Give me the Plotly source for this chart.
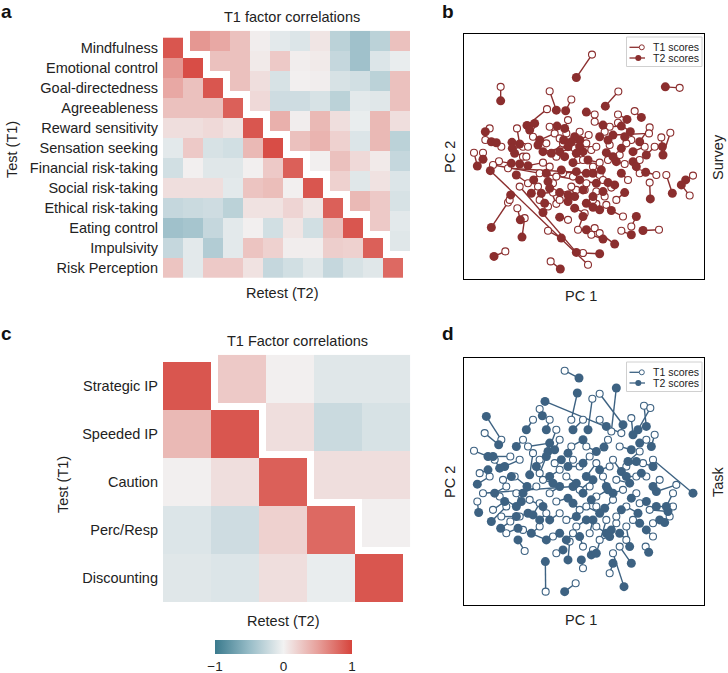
import plotly.graph_objects as go

W, H = 728, 673
FONT = "Liberation Sans, Arial, Helvetica, sans-serif"

# ---------------- Panel a: survey factor correlations ----------------
survey_labels = ["Mindfulness", "Emotional control", "Goal-directedness", "Agreeableness",
                 "Reward sensitivity", "Sensation seeking", "Financial risk-taking",
                 "Social risk-taking", "Ethical risk-taking", "Eating control",
                 "Impulsivity", "Risk Perception"]
survey_reliability = [0.90, 0.95, 0.90, 0.85, 0.90, 0.95, 0.85, 0.90, 0.85, 0.90, 0.85, 0.80]
# retest (T2) correlations, lower triangle, row i has columns 0..i-1
survey_retest_lower = [
    [],
    [0.55],
    [0.45, 0.30],
    [0.30, 0.30, 0.30],
    [0.12, 0.12, 0.15, 0.10],
    [-0.08, 0.25, -0.15, -0.18, 0.35],
    [-0.18, 0.02, -0.10, -0.10, 0.02, 0.25],
    [0.12, 0.12, 0.12, -0.08, 0.28, 0.32, 0.02],
    [-0.25, -0.22, -0.20, -0.30, 0.10, 0.10, 0.18, 0.08],
    [-0.45, -0.42, -0.25, -0.08, 0.02, -0.18, 0.08, -0.18, 0.30],
    [-0.25, -0.08, -0.35, -0.08, 0.28, 0.20, 0.03, 0.03, 0.22, 0.20],
    [0.28, -0.08, 0.25, 0.25, 0.10, -0.25, -0.18, -0.10, -0.25, -0.15, -0.10],
]
# test (T1) correlations, upper triangle, row i has columns i+1..11
survey_test_upper = [
    [0.55, 0.45, 0.30, 0.03, -0.08, -0.12, 0.08, -0.30, -0.45, -0.30, 0.30],
    [0.30, 0.30, 0.05, 0.25, 0.03, 0.05, -0.25, -0.45, -0.12, -0.05],
    [0.30, 0.12, -0.15, 0.02, 0.03, -0.15, -0.18, -0.30, 0.30],
    [0.15, -0.20, -0.20, -0.15, -0.30, -0.08, -0.10, 0.30],
    [0.40, 0.03, 0.35, 0.12, -0.05, 0.35, 0.12],
    [0.30, 0.38, 0.20, -0.12, 0.35, -0.30],
    [0.02, 0.30, 0.15, 0.05, -0.25],
    [0.20, -0.10, 0.10, -0.12],
    [0.35, 0.25, -0.15],
    [0.25, -0.08],
    [-0.10],
    [],
]

# ---------------- Panel c: task factor correlations ----------------
task_labels = ["Strategic IP", "Speeded IP", "Caution", "Perc/Resp", "Discounting"]
task_reliability = [0.90, 0.90, 0.85, 0.80, 0.90]
task_retest_lower = [
    [],
    [0.35],
    [0.02, 0.12],
    [-0.12, -0.20, 0.20],
    [-0.10, -0.12, 0.12, -0.05],
]
task_test_upper = [
    [0.25, 0.02, -0.10, -0.10],
    [0.12, -0.22, -0.15],
    [0.12, 0.12],
    [0.02],
    [],
]

# ---------------- Panel b: survey PCA scores (arbitrary units) ----------------
survey_t1_x = [24, -250, 287, 103, -38, -103, -111, 32, 152, 102, -283, -201, -158, -103, -48, 32, 77, 102, 197,
               -296, -248, -183, -88, 14, 62, 142, 195, 232, 259, -168, -43, -63, -28, 22, 107, 182, 212, -330,
               12, -303, -255, -183, -123, -18, 47, 122, 167, 197, 217, 247, 327, 317, -273, -228, -168, -93, -63,
               47, 82, 57, 97, -228, -200, -178, -138, -93, -83, -23, 2, 37, 62, -108, 2, 37, 67, 117, 142, 112,
               225, -48, -18, 32, 47, 22, -108, -236, -100, -3, -223, -193, -53, -13, -73, 7, 37, -83, -3, -103,
               -83, -33, 27, -133, 7, -38, 72, -113, -153, 127, 77, 167, 27, -73, -133, -173, 132]
survey_t1_y = [307, 210, 207, 196, 172, 197, 143, 127, 137, 127, 85, 85, 92, 90, 110, 105, 90, 102, 88,
               50, 30, 30, 70, 65, 75, 50, 70, 58, 72, 30, 30, 40, 25, 20, 5, 30, 30, 12,
               -325, 12, -14, 0, -18, -10, -18, -22, -10, -78, -55, -55, -57, -117, -25, -35, -80, -80, -50,
               -55, -93, -70, -130, -138, -155, -185, -90, -108, -142, -100, -100, -105, -120, -150, -170, -142, -145, -180, -210, -223,
               -220, -190, -220, -215, -230, -235, -223, -285, -315, -290, -130, -90, 70, 75, 55, 40, 30, 0, -10, -30,
               -60, -60, -30, -50, -80, -90, -10, 40, 60, 40, 35, -50, -130, -130, -130, 0, -70]
survey_t2_x = [-23, -250, 244, 64, -55, -83, -171, 7, 172, 129, -296, -193, -148, -81, -58, 57, 112, 139, 167,
               -278, -263, -216, -133, -13, 47, 122, 87, 235, 237, -215, -123, -98, -73, -3, 67, 147, 187, -320,
               -281, -303, -218, -193, -168, -33, 12, 97, 147, 199, 185, 265, 305, 292, 37, 27, -203, -108, -23,
               7, 72, 92, 122, -220, -191, -186, -158, -128, -103, -73, -48, 27, 57, -123, -28, 27, 47, 82, 157, 142,
               177, -73, -3, 7, 92, 57, -68, -270, -71, 47, -278, -23, -61, -28, -48, -38, -13, -58, -23, -113,
               -68, -13, 52, -151, -3, -28, 87, -138, -163, 112, 72, 157, 7, -48, -118, -208, 112]
survey_t2_y = [238, 168, 210, 152, 138, 140, 94, 134, 118, 112, 75, 38, 100, 92, 85, 95, 92, 75, 45,
               45, 42, 43, 50, 50, 60, 60, 65, 30, 5, 25, 15, 10, 15, 15, 12, 15, 5, -28,
               -42, -8, -20, -22, -27, -18, -10, -15, -15, -127, -47, -110, -70, -85, -80, -50, -55, -75, -45,
               -50, -78, -85, -108, -115, -190, -242, -110, -110, -95, -108, -115, -120, -105, -168, -155, -152, -160, -162, -180, -235,
               -222, -182, -180, -220, -263, -248, -245, -300, -338, -292, -213, -288, 50, 60, 30, 45, 30, 0, 10, -50,
               -40, -70, -40, -70, -100, -120, 0, 35, 80, 25, 50, -30, -140, -135, -140, 10, -50]

# ---------------- Panel d: task PCA scores (arbitrary units) ----------------
task_t1_x = [-58, -38, 25, 47, 82, 112, -133, -248, -298, -330, -221, 180, 199, 142, 212, 207, 277, 197, 257, 185,
             -115, -25, 87, 107, -320, -233, -221, -178, -283, -43, -3, 27, -168, -83, -153, -193, -208, -133, -73, -38,
             7, 72, 107, 167, 87, 37, -13, -73, -143, -233, -303, -253, -193, -133, -103, -53, 17, 57, 97, 157,
             187, 227, 127, 87, 37, -13, -73, -133, -183, -233, -93, -23, 37, 97, 127, 47, -3, 67, 147, 207,
             267, -313, -248, -88, -33, 17, 77, 127, 177, -133, -203, -163, -83, -13, 117, 167, 7, -53, -113, -153,
             -103, -3, 187, -273, 37, 97, -33, 17, -123, -243, 127, 207, -83, 77, -268, 157, 47, -183, 267]
task_t1_y = [332, 185, 248, 263, 150, 145, 217, 125, 145, 92, 75, 227, 220, 190, 140, 65, -10, -85, -105, -195,
             -330, -305, -215, -195, -60, -75, -120, -208, 15, -180, -260, -205, 105, 155, 85, 65, 15, 25, 125, 105,
             105, 125, 105, 90, 65, 55, 45, 35, -15, -15, -35, -45, -105, -65, -35, 15, -15, 15, 5, -35,
             15, 5, -75, -55, -75, -85, -95, -135, -145, -155, -165, -135, -135, -125, -135, -175, -195, -115, -115, -165,
             -35, 25, -105, 55, 65, 75, 45, 45, 55, 65, -35, -55, -60, -25, -25, -65, -75, -115, -95, 185,
             185, 185, 125, -85, -45, -105, -155, -155, 5, 5, -175, -125, -215, -275, 65, 15, 185, 125, -75]
task_t2_x = [-15, -20, 12, 117, 97, -117, -125, -293, -256, -288, -273, 187, 162, 147, 202, 327, 217, 252, 242, 194,
             -116, -58, 120, 142, -316, -278, -250, -198, -320, -48, -8, 22, -103, -108, -163, -238, -171, -113, -88, -3,
             37, 60, 142, 132, 112, 7, -48, -103, -183, -268, -33, -203, -168, -153, -73, -23, -3, 67, 137, 142,
             172, 207, 162, 62, 22, -33, -103, -158, -113, -198, -73, 7, 67, 82, 137, 77, -13, 37, 167, 187,
             247, -288, -203, -68, -48, -3, 47, 157, 207, -143, -188, -123, -48, 27, 87, 187, 47, -23, -133, -173,
             -113, -33, 167, -238, 72, 112, -53, 27, -93, -218, 107, 227, -63, 87, -253, 127, 67, -203, 217]
task_t2_y = [310, 265, 155, 170, 280, 240, 197, 195, 110, 75, 75, 165, 155, 140, 105, -35, -30, -90, -123, -212,
             -240, -330, -315, -245, -93, -120, -140, -175, -8, -235, -235, -220, 115, 90, 20, 45, -15, 75, 95, 125,
             90, 103, 95, 60, 30, 15, 45, 15, -35, -35, -15, -75, -95, -100, -15, -5, -35, -15, -5, -50,
             25, -15, -95, -80, -55, -65, -115, -155, -175, -140, -155, -115, -155, -145, -195, -165, -165, -215, -125, -145,
             -75, 35, -105, 65, 85, 55, 35, 60, 45, 45, -60, -75, -50, 5, -35, -60, -95, -105, -115, 155,
             155, 155, 115, -60, -25, -85, -175, -115, -5, 15, -155, -115, -205, -245, 40, 15, 165, 105, -75]

legend_names = ["T1 scores", "T2 scores"]

# ---------------- styling ----------------
SURVEY_COLOR = "#8b2e2e"
TASK_COLOR = "#3d6282"
COLORSCALE = [[0.0, "#3a7a8d"], [0.25, "#97bcc7"], [0.5, "#f2f2f2"], [0.75, "#e7a09b"], [1.0, "#d6443c"]]


def px(x):
    return x / W


def py(y):
    return 1 - y / H


def build_matrices(n, lower, diag, upper):
    zl = [[None] * n for _ in range(n)]
    zu = [[None] * n for _ in range(n)]
    for i in range(n):
        for j in range(n):
            if j < i:
                zl[i][j] = lower[i][j]
            elif j == i:
                zl[i][j] = diag[i]
            else:
                zu[i][j] = upper[i][j - i - 1]
    return zl, zu


fig = go.Figure()


def add_heatmap(labels, lower, diag, upper, xa, ya, offset):
    n = len(labels)
    zl, zu = build_matrices(n, lower, diag, upper)
    idx = list(range(n))
    fig.add_trace(go.Heatmap(z=zl, x=idx, y=idx, coloraxis="coloraxis", xaxis=xa, yaxis=ya,
                             hoverongaps=False))
    fig.add_trace(go.Heatmap(z=zu, x=[i + offset for i in idx], y=[i - offset for i in idx],
                             coloraxis="coloraxis", xaxis=xa, yaxis=ya, hoverongaps=False))


add_heatmap(survey_labels, survey_retest_lower, survey_reliability, survey_test_upper, "x", "y", 0.35)
add_heatmap(task_labels, task_retest_lower, task_reliability, task_test_upper, "x3", "y3", 0.15)


def add_scatter(t1x, t1y, t2x, t2y, color, xa, ya):
    lx, ly = [], []
    for a, b, c, d in zip(t1x, t1y, t2x, t2y):
        lx += [a, c, None]
        ly += [b, d, None]
    fig.add_trace(go.Scatter(x=lx, y=ly, mode="lines", line=dict(color=color, width=1.4),
                             xaxis=xa, yaxis=ya, showlegend=False, hoverinfo="skip"))
    fig.add_trace(go.Scatter(x=t1x, y=t1y, mode="markers", xaxis=xa, yaxis=ya, showlegend=False,
                             name=legend_names[0],
                             marker=dict(size=7, color="white", line=dict(color=color, width=1.1))))
    fig.add_trace(go.Scatter(x=t2x, y=t2y, mode="markers", xaxis=xa, yaxis=ya, showlegend=False,
                             name=legend_names[1],
                             marker=dict(size=9, color=color, line=dict(width=0))))


add_scatter(survey_t1_x, survey_t1_y, survey_t2_x, survey_t2_y, SURVEY_COLOR, "x2", "y2")
add_scatter(task_t1_x, task_t1_y, task_t2_x, task_t2_y, TASK_COLOR, "x4", "y4")


def add_key(top, color):
    """Compact in-panel key (matplotlib style) drawn in paper coordinates."""
    shp = dict(xref="paper", yref="paper", layer="above")
    fig.add_shape(type="rect", x0=px(626.5), x1=px(702), y0=py(top), y1=py(top + 29.5),
                  line=dict(color="#d0d0d0", width=1), fillcolor="rgba(255,255,255,0.9)", **shp)
    rows = [top + 10.3, top + 21.0]
    # T1 entry: line ending in an open circle
    fig.add_shape(type="line", x0=px(629.5), x1=px(639.5), y0=py(rows[0]), y1=py(rows[0]),
                  line=dict(color=color, width=1.3), **shp)
    fig.add_shape(type="circle", x0=px(639.3), x1=px(644.3), y0=py(rows[0] - 2.5), y1=py(rows[0] + 2.5),
                  line=dict(color=color, width=1), fillcolor="white", **shp)
    # T2 entry: line with filled circle
    fig.add_shape(type="line", x0=px(629.5), x1=px(645), y0=py(rows[1]), y1=py(rows[1]),
                  line=dict(color=color, width=1.3), **shp)
    fig.add_shape(type="circle", x0=px(635.3), x1=px(641.3), y0=py(rows[1] - 3), y1=py(rows[1] + 3),
                  line=dict(color=color, width=0), fillcolor=color, **shp)
    for name, yy in zip(legend_names, rows):
        fig.add_annotation(text=name, x=px(650.5), y=py(yy), xref="paper", yref="paper", showarrow=False,
                           xanchor="left", yanchor="middle", font=dict(family=FONT, size=10.5, color="#222"))


add_key(37, SURVEY_COLOR)
add_key(362, TASK_COLOR)

hm_common = dict(showgrid=False, zeroline=False, ticks="", showline=False)
box_common = dict(showgrid=False, zeroline=False, ticks="", showticklabels=False, showline=True,
                  linecolor="black", linewidth=1, mirror=True)

tickfont = dict(family=FONT, size=14.5, color="#222")

fig.update_layout(
    width=W, height=H, margin=dict(l=0, r=0, t=0, b=0, autoexpand=False),
    paper_bgcolor="white", plot_bgcolor="white", showlegend=False,
    font=dict(family=FONT, size=14, color="#222"),
    xaxis=dict(domain=[px(163), px(410)], range=[-0.5, 11.85], showticklabels=False, anchor="y", **hm_common),
    yaxis=dict(domain=[py(278), py(30.7)], range=[11.5, -0.85], anchor="x", tickmode="array",
               tickvals=list(range(len(survey_labels))), ticktext=survey_labels, tickfont=tickfont,
               ticklabelstandoff=4, **hm_common),
    xaxis3=dict(domain=[px(163), px(410.2)], range=[-0.5, 4.65], showticklabels=False, anchor="y3", **hm_common),
    yaxis3=dict(domain=[py(602), py(354.8)], range=[4.5, -0.65], anchor="x3", tickmode="array",
                tickvals=list(range(len(task_labels))), ticktext=task_labels, tickfont=tickfont,
                ticklabelstandoff=4, **hm_common),
    xaxis2=dict(domain=[px(464), px(704)], range=[-360, 360], anchor="y2", **box_common),
    yaxis2=dict(domain=[py(279), py(34)], range=[-368, 369], anchor="x2", **box_common),
    xaxis4=dict(domain=[px(464), px(704)], range=[-360, 360], anchor="y4", **box_common),
    yaxis4=dict(domain=[py(605), py(358)], range=[-370, 370], anchor="x4", **box_common),
    coloraxis=dict(colorscale=COLORSCALE, cmin=-1, cmax=1,
                   colorbar=dict(orientation="h", x=px(283.5), xanchor="center", y=py(640), yanchor="top",
                                 len=137, lenmode="pixels", thickness=14, outlinewidth=0, xpad=0, ypad=0,
                                 tickvals=[-1, 0, 1], ticks="",
                                 tickfont=dict(family=FONT, size=13.5, color="#222"))),
)


def ann(text, x, y, size=14.5, angle=0, bold=False):
    fig.add_annotation(text=f"<b>{text}</b>" if bold else text, x=px(x), y=py(y), xref="paper", yref="paper",
                       showarrow=False, xanchor="center", yanchor="middle", textangle=angle,
                       font=dict(family=FONT, size=size, color="#111" if bold else "#222"))


ann("a", 6, 11, size=19, bold=True)
ann("T1 factor correlations", 292, 17)
ann("Retest (T2)", 282, 293)
ann("Test (T1)", 12, 150, angle=-90)
ann("b", 448, 11, size=19, bold=True)
ann("PC 1", 581, 296)
ann("PC 2", 450, 157, angle=-90)
ann("Survey", 718, 157, angle=-90)
ann("c", 6, 333, size=19, bold=True)
ann("T1 Factor correlations", 297, 341)
ann("Retest (T2)", 283, 621)
ann("Test (T1)", 63, 485, angle=-90)
ann("d", 448, 333, size=19, bold=True)
ann("PC 1", 581, 620)
ann("PC 2", 450, 482, angle=-90)
ann("Task", 718, 482, angle=-90)

fig.write_html("out.html", config={"displayModeBar": False},
               post_script="document.body.style.margin='0';document.body.style.overflow='hidden';")
